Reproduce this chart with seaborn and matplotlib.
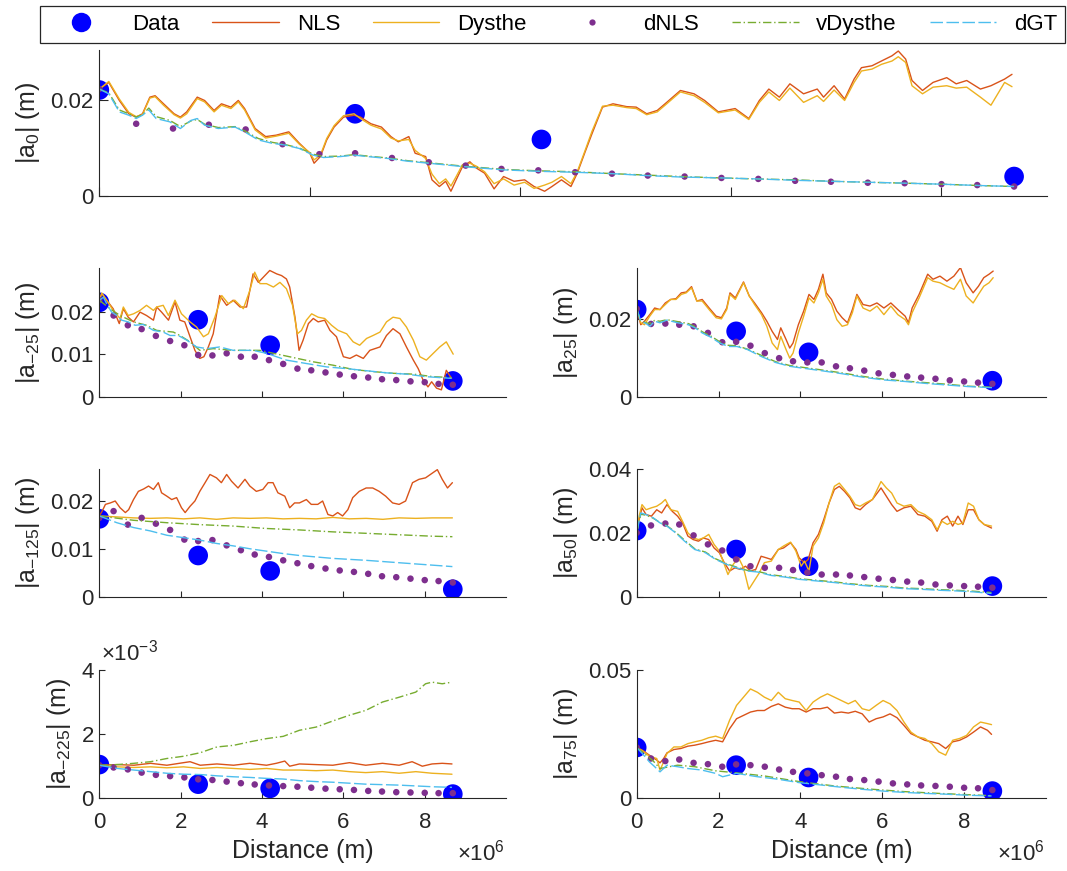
import numpy as np
import seaborn as sns
import matplotlib.pyplot as plt
from matplotlib.lines import Line2D

# distances are in units of 1e6 m
data_x = [0.0, 2.43, 4.20, 8.69]
dnls_x = [0.00, 0.35, 0.70, 1.04, 1.39, 1.74, 2.09, 2.43, 2.78, 3.13, 3.48, 3.82, 4.17,
          4.52, 4.87, 5.21, 5.56, 5.91, 6.26, 6.61, 6.95, 7.30, 7.65, 8.00, 8.34, 8.69]

# ---------- |a_0| ----------
a0_nls_x = [0.0, 0.09, 0.19, 0.28, 0.35, 0.41, 0.48, 0.53, 0.61, 0.71, 0.77, 0.83, 0.93, 1.0, 1.09,
            1.16, 1.25, 1.32, 1.38, 1.48, 1.58, 1.68, 1.80, 1.90, 2.0, 2.04, 2.10, 2.16, 2.23, 2.32,
            2.42, 2.48, 2.58, 2.68, 2.77, 2.84, 2.94, 3.0, 3.10, 3.16, 3.23, 3.29, 3.34, 3.39, 3.45,
            3.52, 3.58, 3.66, 3.75, 3.84, 3.94, 4.04, 4.13, 4.23, 4.30, 4.39, 4.48, 4.54, 4.61, 4.68,
            4.78, 4.88, 5.01, 5.10, 5.20, 5.30, 5.39, 5.52, 5.65, 5.75, 5.88, 6.04, 6.17, 6.27, 6.36,
            6.46, 6.56, 6.69, 6.82, 6.88, 6.98, 7.08, 7.17, 7.24, 7.34, 7.43, 7.53, 7.59, 7.66, 7.72,
            7.82, 7.92, 8.05, 8.14, 8.24, 8.37, 8.47, 8.60, 8.67]
a0_nls_y = [.0224, .0238, .0200, .0172, .0165, .0172, .0207, .0210, .0193, .0172,
            .0165, .0176, .0207, .0200, .0179, .0193, .0186, .0200, .0183, .0141,
            .0124, .0127, .0134, .0110, .0089, .0068, .0082, .0117, .0144, .0165,
            .0169, .0165, .0151, .0144, .0124, .0113, .0124, .0089, .0082, .0033,
            .0019, .0030, .0009, .0033, .0061, .0071, .0058, .0047, .0014, .0040,
            .0030, .0033, .0019, .0009, .0019, .0033, .0019, .0047, .0089, .0130,
            .0186, .0193, .0187, .0186, .0172, .0179, .0196, .0221, .0214, .0200,
            .0176, .0183, .0162, .0200, .0224, .0207, .0235, .0214, .0224, .0207,
            .0231, .0203, .0245, .0269, .0273, .0283, .0294, .0304, .0287, .0242,
            .0221, .0238, .0248, .0235, .0242, .0224, .0231, .0245, .0255]
a0_dys_y = [.0224, .0240, .0203, .0175, .0166, .0170, .0205, .0208, .0190, .0170,
            .0163, .0172, .0204, .0197, .0176, .0190, .0183, .0197, .0180, .0138,
            .0121, .0125, .0131, .0108, .0090, .0075, .0085, .0120, .0147, .0168,
            .0172, .0162, .0148, .0140, .0121, .0115, .0118, .0095, .0078, .0045,
            .0025, .0035, .0020, .0040, .0065, .0068, .0062, .0050, .0025, .0035,
            .0022, .0028, .0015, .0022, .0028, .0040, .0025, .0050, .0092, .0135,
            .0188, .0190, .0185, .0183, .0170, .0176, .0193, .0218, .0210, .0196,
            .0174, .0180, .0160, .0196, .0218, .0200, .0226, .0196, .0210, .0198,
            .0222, .0200, .0238, .0262, .0266, .0276, .0283, .0292, .0280, .0231,
            .0214, .0228, .0231, .0226, .0228, .0207, .0190, .0238, .0229]
a0_dgt_x = [0.0, 0.09, 0.19, 0.28, 0.35, 0.41, 0.47, 0.54, 0.67, 0.77, 0.87, 0.93, 1.0, 1.13, 1.29,
            1.38, 1.51, 1.64, 1.77, 1.90, 2.03, 2.13, 2.29, 2.42, 2.55, 2.74, 2.94, 3.13, 3.45, 3.84,
            4.17, 4.52, 4.88, 5.20, 5.52, 5.91, 6.24, 6.62, 6.95, 7.30, 7.66, 7.98, 8.37, 8.69]
a0_dgt_y = [.0224, .0214, .0176, .0169, .0162, .0169, .0180, .0162, .0155, .0141,
            .0158, .0162, .0148, .0141, .0144, .0134, .0117, .0110, .0106, .0099,
            .0085, .0080, .0082, .0085, .0082, .0078, .0072, .0068, .0061, .0054,
            .0051, .0049, .0046, .0042, .0039, .0037, .0035, .0032, .0030, .0028,
            .0026, .0024, .0021, .0019]
a0_vdy_y = [.0224, .0216, .0180, .0172, .0165, .0170, .0184, .0166, .0158, .0145,
            .0157, .0160, .0150, .0143, .0145, .0136, .0120, .0112, .0107, .0100,
            .0087, .0082, .0083, .0086, .0083, .0079, .0073, .0069, .0062, .0055,
            .0052, .0050, .0046, .0043, .0040, .0037, .0035, .0033, .0030, .0028,
            .0026, .0024, .0021, .0019]
a0_dnls_y = [.0224, .0151, .0141, .0149, .0139, .0108, .0087, .0089, .0079, .0070, .0063, .0056, .0053,
             .0049, .0046, .0042, .0040, .0037, .0035, .0031, .0029, .0027, .0026, .0024, .0022, .0019]
a0_data_y = [.0222, .0172, .0118, .0040]

# ---------- |a_-25| ----------
am25_nls_x = [0, .06, .18, .34, .49, .59, .71, .84, 1.0, 1.16, 1.33, 1.41, 1.53, 1.70, 1.86, 1.98,
              2.10, 2.23, 2.35, 2.47, 2.57, 2.68, 2.80, 2.96, 3.13, 3.29, 3.46, 3.62, 3.78, 3.91,
              4.03, 4.19, 4.36, 4.48, 4.60, 4.68, 4.81, 4.91, 5.01, 5.14, 5.26, 5.38, 5.54, 5.67,
              5.83, 6.0, 6.16, 6.32, 6.49, 6.65, 6.90, 7.06, 7.22, 7.39, 7.55, 7.72, 7.84, 7.96,
              8.08, 8.17, 8.29, 8.41, 8.53, 8.66]
am25_nls_y = [.0227, .0242, .0227, .0207, .0172, .0207, .0187, .0176, .0199, .0191,
              .0180, .0211, .0199, .0180, .0223, .0180, .0176, .0141, .0109, .0090,
              .0094, .0117, .0148, .0238, .0215, .0227, .0211, .0211, .0289, .0269,
              .0281, .0297, .0289, .0285, .0277, .0258, .0187, .0109, .0133, .0172,
              .0184, .0176, .0180, .0156, .0141, .0094, .0090, .0098, .0090, .0109,
              .0117, .0144, .0160, .0148, .0117, .0086, .0066, .0039, .0023, .0035,
              .0020, .0016, .0062, .0043]
am25_dys_x = [0, .06, .18, .34, .51, .59, .71, .84, 1.0, 1.16, 1.33, 1.41, 1.57, 1.70, 1.86, 2.02,
              2.23, 2.39, 2.56, 2.68, 2.84, 3.01, 3.17, 3.33, 3.54, 3.70, 3.82, 3.95, 4.11, 4.28,
              4.44, 4.60, 4.75, 4.87, 4.97, 5.09, 5.22, 5.38, 5.54, 5.71, 5.87, 6.08, 6.24, 6.40,
              6.57, 6.73, 6.90, 7.06, 7.22, 7.39, 7.55, 7.72, 7.88, 8.04, 8.21, 8.37, 8.53, 8.70]
am25_dys_y = [.0227, .0244, .0227, .0203, .0184, .0211, .0191, .0195, .0203, .0215,
              .0203, .0211, .0215, .0191, .0227, .0195, .0176, .0164, .0141, .0148,
              .0187, .0238, .0219, .0227, .0207, .0250, .0293, .0266, .0266, .0258,
              .0269, .0254, .0215, .0148, .0156, .0180, .0195, .0187, .0184, .0168,
              .0156, .0148, .0129, .0121, .0137, .0144, .0152, .0176, .0187, .0184,
              .0164, .0133, .0094, .0086, .0102, .0117, .0129, .0100]
am25_dgt_x = [0, .10, .18, .30, .43, .55, .71, .88, 1.08, 1.33, 1.57, 1.74, 1.94, 2.15, 2.39,
              2.64, 2.96, 3.29, 3.78, 4.11, 4.60, 5.09, 5.59, 6.08, 6.57, 7.06, 7.55, 8.04, 8.66]
am25_dgt_y = [.0227, .0234, .0219, .0199, .0191, .0180, .0176, .0168, .0170, .0156,
              .0152, .0144, .0144, .0133, .0117, .0113, .0117, .0109, .0109, .0102,
              .0086, .0078, .0070, .0066, .0061, .0056, .0053, .0047, .0043]
am25_vdy_x = [0, .26, .51, .84, 1.16, 1.41, 1.82, 1.98, 2.23, 2.47, 2.80, 3.29, 3.95, 4.28,
              4.77, 5.26, 5.75, 6.24, 6.73, 7.22, 7.72, 8.21, 8.66]
am25_vdy_y = [.0227, .0207, .0191, .0176, .0168, .0156, .0152, .0144, .0129, .0109, .0113,
              .0109, .0109, .0102, .0092, .0082, .0074, .0064, .0059, .0055, .0053, .0047, .0045]
am25_dnls_y = [.0227, .0191, .0168, .0159, .0143, .0131, .0121, .0098, .0097, .0102, .0094, .0094, .0086,
               .0077, .0066, .0062, .0057, .0052, .0048, .0045, .0041, .0039, .0036, .0034, .0030, .0028]
am25_data_y = [.0222, .0181, .0121, .0037]

# ---------- |a_25| ----------
a25_nls_x = [0, .10, .19, .32, .44, .57, .70, .83, .96, 1.09, 1.21, 1.34, 1.47, 1.60, 1.77, 1.94,
             2.07, 2.20, 2.28, 2.41, 2.61, 2.75, 2.88, 3.05, 3.18, 3.31, 3.44, 3.52, 3.65, 3.74,
             3.82, 3.95, 4.08, 4.21, 4.33, 4.44, 4.55, 4.63, 4.76, 4.89, 5.02, 5.15, 5.27, 5.38,
             5.53, 5.70, 5.87, 6.04, 6.21, 6.38, 6.56, 6.64, 6.73, 6.90, 7.11, 7.24, 7.41, 7.58,
             7.75, 7.91, 8.05, 8.22, 8.35, 8.48, 8.61, 8.71]
a25_nls_y = [.0226, .0185, .0194, .0211, .0228, .0224, .0241, .0250, .0252, .0267,
             .0269, .0283, .0246, .0250, .0228, .0207, .0203, .0228, .0267, .0254,
             .0295, .0259, .0241, .0216, .0194, .0168, .0147, .0177, .0147, .0125,
             .0138, .0185, .0220, .0263, .0250, .0276, .0315, .0267, .0250, .0220,
             .0203, .0190, .0224, .0263, .0237, .0233, .0241, .0228, .0241, .0224,
             .0207, .0190, .0228, .0263, .0315, .0302, .0310, .0297, .0310, .0332,
             .0293, .0267, .0284, .0306, .0315, .0323]
a25_dys_y = [.0226, .0190, .0185, .0207, .0224, .0224, .0237, .0250, .0250, .0263,
             .0267, .0280, .0246, .0246, .0224, .0203, .0200, .0224, .0263, .0250,
             .0293, .0259, .0237, .0211, .0181, .0138, .0121, .0155, .0121, .0099,
             .0112, .0164, .0207, .0254, .0241, .0267, .0302, .0259, .0237, .0198,
             .0181, .0185, .0216, .0259, .0228, .0220, .0233, .0211, .0233, .0211,
             .0198, .0185, .0216, .0254, .0306, .0297, .0293, .0284, .0276, .0302,
             .0259, .0241, .0263, .0284, .0293, .0306]
a25_dgt_x = [0, .10, .23, .32, .44, .57, .74, 1.0, 1.26, 1.43, 1.60, 1.81, 2.03, 2.24, 2.45,
             2.71, 3.05, 3.39, 3.74, 4.08, 4.50, 5.02, 5.53, 6.04, 6.56, 7.07, 7.58, 8.09, 8.71]
a25_dgt_y = [.0226, .0194, .0188, .0181, .0194, .0190, .0197, .0190, .0185, .0177,
             .0164, .0153, .0138, .0129, .0129, .0121, .0103, .0088, .0078, .0073,
             .0067, .0059, .0050, .0043, .0039, .0034, .0030, .0026, .0023]
a25_vdy_y = [.0226, .0196, .0190, .0188, .0196, .0194, .0198, .0193, .0188, .0180,
             .0167, .0156, .0141, .0132, .0131, .0122, .0106, .0090, .0080, .0075,
             .0069, .0061, .0052, .0045, .0040, .0036, .0032, .0027, .0024]
a25_dnls_y = [.0226, .0187, .0188, .0185, .0181, .0164, .0140, .0141, .0131, .0112, .0099, .0091, .0088,
              .0088, .0078, .0073, .0067, .0060, .0056, .0052, .0049, .0046, .0042, .0039, .0036, .0033]
a25_data_y = [.0224, .0168, .0114, .0041]

# ---------- |a_-125| ----------
am125_nls_x = [0, .07, .15, .27, .39, .51, .64, .72, .84, .96, 1.09, 1.21, 1.33, 1.45, 1.53, 1.66,
               1.78, 1.90, 2.02, 2.11, 2.23, 2.35, 2.47, 2.60, 2.72, 2.88, 3.0, 3.13, 3.25, 3.41,
               3.58, 3.70, 3.86, 4.02, 4.15, 4.27, 4.39, 4.56, 4.68, 4.80, 4.92, 5.09, 5.21, 5.37,
               5.49, 5.62, 5.74, 5.86, 5.98, 6.11, 6.23, 6.39, 6.56, 6.72, 6.88, 7.04, 7.21, 7.37,
               7.53, 7.70, 7.86, 8.02, 8.19, 8.31, 8.43, 8.56, 8.68]
am125_nls_y = [.0168, .0178, .0192, .0195, .0199, .0185, .0175, .0181, .0202, .0219,
               .0224, .0230, .0223, .0237, .0216, .0209, .0202, .0206, .0185, .0175,
               .0188, .0199, .0219, .0237, .0254, .0247, .0237, .0254, .0240, .0226,
               .0244, .0230, .0219, .0223, .0237, .0237, .0216, .0209, .0185, .0195,
               .0195, .0202, .0192, .0192, .0199, .0171, .0168, .0175, .0168, .0181,
               .0206, .0219, .0226, .0226, .0219, .0209, .0195, .0192, .0199, .0237,
               .0244, .0247, .0257, .0264, .0244, .0226, .0237]
am125_dys_x = [0, .43, .84, 1.25, 1.66, 2.07, 2.47, 2.88, 3.29, 3.70, 4.11, 4.52, 4.92, 5.33,
               5.74, 6.15, 6.56, 6.97, 7.37, 7.78, 8.19, 8.68]
am125_dys_y = [.0168, .0166, .0164, .0163, .0164, .0162, .0164, .0161, .0164, .0163, .0164,
               .0162, .0163, .0162, .0165, .0162, .0163, .0161, .0164, .0163, .0164, .0164]
am125_vdy_x = [0, .84, 1.66, 2.47, 3.29, 4.11, 4.92, 5.74, 6.56, 7.37, 8.19, 8.68]
am125_vdy_y = [.0168, .0159, .0154, .0150, .0147, .0142, .0139, .0135, .0132, .0129, .0126, .0125]
am125_dgt_x = [0, .43, .84, 1.25, 1.66, 2.07, 2.47, 2.88, 3.29, 3.70, 4.11, 4.52, 4.92, 5.33,
               5.74, 6.56, 7.37, 8.19, 8.68]
am125_dgt_y = [.0168, .0154, .0144, .0137, .0128, .0123, .0118, .0111, .0106, .0100, .0095,
               .0090, .0086, .0083, .0080, .0076, .0071, .0066, .0063]
am125_dnls_y = [.0164, .0178, .0150, .0164, .0152, .0139, .0119, .0116, .0118, .0107, .0097, .0088, .0083,
                .0076, .0070, .0064, .0059, .0055, .0052, .0048, .0043, .0041, .0038, .0035, .0033, .0030]
am125_data_y = [.0162, .0086, .0054, .0016]

# ---------- |a_50| ----------
a50_nls_x = [0, .06, .13, .23, .36, .49, .61, .74, .87, 1.0, 1.12, 1.25, 1.38, 1.51, 1.63, 1.76,
             1.89, 2.02, 2.14, 2.27, 2.40, 2.53, 2.66, 2.78, 2.91, 3.04, 3.17, 3.29, 3.46, 3.59,
             3.76, 3.89, 3.97, 4.10, 4.19, 4.31, 4.44, 4.57, 4.70, 4.83, 4.95, 5.08, 5.21, 5.34,
             5.46, 5.59, 5.76, 5.97, 6.10, 6.23, 6.36, 6.53, 6.70, 6.87, 7.04, 7.21, 7.34, 7.46,
             7.59, 7.72, 7.85, 7.97, 8.10, 8.23, 8.36, 8.49, 8.67]
a50_nls_y = [.0200, .0241, .0278, .0257, .0252, .0272, .0262, .0288, .0267, .0252,
             .0231, .0190, .0179, .0174, .0184, .0179, .0153, .0138, .0107, .0081,
             .0091, .0086, .0096, .0081, .0086, .0127, .0122, .0117, .0148, .0153,
             .0169, .0148, .0122, .0107, .0117, .0169, .0195, .0241, .0293, .0335,
             .0345, .0329, .0309, .0278, .0272, .0288, .0304, .0340, .0314, .0288,
             .0267, .0278, .0283, .0257, .0252, .0236, .0205, .0241, .0252, .0221,
             .0252, .0226, .0272, .0272, .0241, .0226, .0215]
a50_dys_x = [0, .06, .13, .23, .36, .49, .61, .70, .83, 1.0, 1.12, 1.25, 1.38, 1.51, 1.63, 1.76,
             1.89, 2.02, 2.14, 2.23, 2.36, 2.49, 2.61, 2.74, 2.87, 3.0, 3.12, 3.29, 3.46, 3.59,
             3.76, 3.89, 4.02, 4.10, 4.21, 4.31, 4.44, 4.57, 4.70, 4.83, 4.95, 5.08, 5.21, 5.34,
             5.46, 5.59, 5.76, 5.97, 6.10, 6.23, 6.36, 6.53, 6.70, 6.87, 7.04, 7.21, 7.34, 7.46,
             7.59, 7.72, 7.85, 7.97, 8.10, 8.23, 8.36, 8.49, 8.67]
a50_dys_y = [.0200, .0252, .0288, .0272, .0278, .0283, .0293, .0304, .0272, .0267,
             .0236, .0200, .0184, .0179, .0184, .0195, .0164, .0143, .0102, .0070,
             .0102, .0122, .0091, .0024, .0050, .0076, .0107, .0112, .0148, .0159,
             .0171, .0143, .0096, .0112, .0081, .0159, .0184, .0231, .0293, .0345,
             .0355, .0335, .0314, .0288, .0283, .0293, .0304, .0360, .0340, .0324,
             .0293, .0283, .0288, .0267, .0257, .0241, .0210, .0236, .0226, .0236,
             .0226, .0231, .0293, .0283, .0241, .0226, .0221]
a50_dgt_x = [0, .10, .23, .40, .57, .74, .95, 1.17, 1.42, 1.68, 1.93, 2.19, 2.44, 2.70, 2.95,
             3.29, 3.63, 3.97, 4.40, 4.83, 5.25, 5.68, 6.10, 6.53, 6.95, 7.38, 7.80, 8.23, 8.67]
a50_dgt_y = [.0200, .0262, .0257, .0247, .0231, .0221, .0200, .0174, .0148, .0138,
             .0117, .0102, .0091, .0081, .0078, .0067, .0062, .0055, .0050, .0045,
             .0039, .0034, .0031, .0026, .0024, .0021, .0019, .0016, .0011]
a50_vdy_y = [.0200, .0258, .0255, .0246, .0232, .0222, .0202, .0177, .0150, .0140,
             .0119, .0104, .0093, .0083, .0080, .0069, .0064, .0057, .0052, .0047,
             .0041, .0036, .0033, .0028, .0026, .0023, .0021, .0018, .0014]
a50_dnls_y = [.0200, .0223, .0229, .0226, .0192, .0164, .0145, .0117, .0096, .0091, .0091, .0084, .0076,
              .0070, .0070, .0067, .0062, .0057, .0053, .0048, .0045, .0039, .0036, .0034, .0032, .0029]
a50_data_y = [.0207, .0148, .0096, .0034]

# ---------- |a_-225| ----------
am225_nls_x = [0, .44, .85, 1.26, 1.66, 2.07, 2.23, 2.48, 2.89, 3.30, 3.70, 4.11, 4.35, 4.56,
               4.68, 4.92, 5.33, 5.74, 6.15, 6.55, 6.96, 7.37, 7.69, 7.94, 8.18, 8.43, 8.67]
am225_nls_y = [.00103, .00105, .00103, .00109, .00103, .00111, .00114, .00103, .00107,
               .00103, .00109, .00103, .00109, .00116, .00100, .00107, .00105, .00103,
               .00111, .00103, .00109, .00103, .00114, .00100, .00107, .00109, .00107]
am225_dys_x = [0, .44, .85, 1.26, 1.66, 2.07, 2.48, 2.89, 3.30, 3.70, 4.11, 4.52, 4.92, 5.33,
               5.74, 6.15, 6.55, 6.96, 7.37, 7.78, 8.18, 8.67]
am225_dys_y = [.00103, .00098, .00096, .00098, .00095, .00098, .00093, .00096, .00093,
               .00090, .00093, .00088, .00088, .00086, .00088, .00083, .00080, .00083,
               .00078, .00083, .00078, .00075]
am225_vdy_x = [0, .44, .85, 1.26, 1.66, 2.07, 2.48, 2.89, 3.30, 3.70, 4.11, 4.52, 4.92, 5.33,
               5.74, 6.15, 6.55, 6.96, 7.37, 7.78, 8.02, 8.18, 8.43, 8.67]
am225_vdy_y = [.00103, .00105, .00109, .00114, .00124, .00131, .00142, .00160, .00165,
               .00176, .00186, .00193, .00212, .00222, .00241, .00259, .00274, .00300,
               .00315, .00331, .00357, .00362, .00357, .00362]
am225_dgt_x = [0, .44, .85, 1.26, 1.66, 2.07, 2.48, 2.89, 3.30, 3.70, 4.11, 4.52, 4.92, 5.33,
               5.74, 6.55, 7.37, 8.18, 8.67]
am225_dgt_y = [.00103, .00093, .00088, .00083, .00078, .00075, .00074, .00070, .00067,
               .00065, .00062, .00060, .00055, .00052, .00050, .00044, .00041, .00036, .00034]
am225_dnls_y = [.00103, .00096, .00090, .00080, .00073, .00069, .00065, .00059, .00057,
                .00052, .00047, .00043, .00040, .00038, .00036, .00033, .00030, .00028,
                .00026, .00023, .00021, .00019, .00018, .00017, .00016, .00016]
am225_data_y = [.00105, .00044, .00031, .00013]

# ---------- |a_75| ----------
a75_nls_x = [0, .14, .31, .49, .57, .66, .74, .91, 1.08, 1.25, 1.42, 1.59, 1.76, 1.93, 2.10,
             2.27, 2.44, 2.61, 2.78, 2.95, 3.12, 3.29, 3.46, 3.63, 3.80, 3.97, 4.14, 4.31, 4.49,
             4.66, 4.83, 5.0, 5.17, 5.34, 5.51, 5.68, 5.85, 6.02, 6.19, 6.36, 6.53, 6.70, 6.87,
             7.04, 7.21, 7.38, 7.55, 7.72, 7.89, 8.06, 8.23, 8.40, 8.57, 8.67]
a75_nls_y = [.0198, .0187, .0168, .0149, .0138, .0155, .0177, .0190, .0194, .0203,
             .0207, .0213, .0220, .0226, .0220, .0271, .0310, .0323, .0336, .0342,
             .0342, .0358, .0368, .0355, .0349, .0349, .0336, .0349, .0349, .0355,
             .0332, .0336, .0332, .0339, .0329, .0297, .0310, .0317, .0329, .0314,
             .0284, .0252, .0239, .0226, .0220, .0213, .0194, .0220, .0226, .0239,
             .0258, .0278, .0265, .0249]
a75_dys_y = [.0198, .0185, .0164, .0155, .0110, .0142, .0174, .0200, .0200, .0213,
             .0220, .0226, .0236, .0242, .0233, .0304, .0362, .0394, .0426, .0413,
             .0394, .0381, .0413, .0388, .0381, .0375, .0342, .0375, .0394, .0407,
             .0394, .0381, .0368, .0381, .0349, .0342, .0362, .0381, .0368, .0342,
             .0297, .0258, .0239, .0233, .0213, .0181, .0168, .0226, .0233, .0245,
             .0278, .0297, .0291, .0287]
a75_dgt_x = [0, .14, .31, .44, .57, .74, 1.0, 1.25, 1.59, 1.93, 2.10, 2.44, 2.95, 3.46, 3.97,
             4.49, 5.0, 5.51, 6.02, 6.53, 7.04, 7.55, 8.06, 8.67]
a75_dgt_y = [.0198, .0174, .0142, .0123, .0103, .0129, .0123, .0116, .0110, .0097, .0084, .0097,
             .0084, .0074, .0061, .0052, .0043, .0035, .0028, .0023, .0019, .0016, .0012, .0009]
a75_vdy_x = [0, .40, .57, 1.0, 1.42, 1.93, 2.44, 3.12, 3.97, 4.83, 5.68, 6.53, 7.38, 8.23, 8.67]
a75_vdy_y = [.0198, .0146, .0116, .0129, .0123, .0107, .0099, .0087, .0065, .0048, .0036,
             .0026, .0019, .0013, .0010]
a75_dnls_y = [.0198, .0155, .0145, .0151, .0138, .0133, .0123, .0132, .0129, .0123, .0112, .0103, .0097,
              .0090, .0084, .0075, .0071, .0065, .0058, .0054, .0050, .0048, .0045, .0041, .0039, .0032]
a75_data_y = [.0198, .0129, .0081, .0028]

# panel options: ylabel, ylim top, y ticks, y tick labels
ylabels = [r'|a$_{0}$| (m)', r'|a$_{-25}$| (m)', r'|a$_{25}$| (m)', r'|a$_{-125}$| (m)',
           r'|a$_{50}$| (m)', r'|a$_{-225}$| (m)', r'|a$_{75}$| (m)']
ytops = [0.0306, 0.0302, 0.0330, 0.0266, 0.04, 0.004, 0.05]
yticks = [[0, 0.02], [0, 0.01, 0.02], [0, 0.02], [0, 0.01, 0.02],
          [0, 0.02, 0.04], [0, 0.002, 0.004], [0, 0.05]]
yticklabels = [['0', '0.02'], ['0', '0.01', '0.02'], ['0', '0.02'], ['0', '0.01', '0.02'],
               ['0', '0.02', '0.04'], ['0', '2', '4'], ['0', '0.05']]
xticks = [0, 2, 4, 6, 8]

C_DATA = '#0000FF'
C_NLS = '#D95319'
C_DYS = '#EDB120'
C_DNLS = '#7E2F8E'
C_VDY = '#77AC30'
C_DGT = '#4DBEEE'
INK = '#262626'
DGT_DASH = (9, 2.5)
VDY_DASH = (6, 2, 1, 2)

sns.set_theme(style='ticks')
plt.rcParams['font.family'] = ['Liberation Sans', 'DejaVu Sans']
plt.rcParams['mathtext.fontset'] = 'custom'
plt.rcParams['mathtext.rm'] = 'Liberation Sans'
plt.rcParams['mathtext.default'] = 'regular'

panels = [
    (a0_nls_x, a0_nls_y, a0_nls_x, a0_dys_y, a0_dnls_y, a0_dgt_x, a0_vdy_y, a0_dgt_x, a0_dgt_y, a0_data_y),
    (am25_nls_x, am25_nls_y, am25_dys_x, am25_dys_y, am25_dnls_y, am25_vdy_x, am25_vdy_y,
     am25_dgt_x, am25_dgt_y, am25_data_y),
    (a25_nls_x, a25_nls_y, a25_nls_x, a25_dys_y, a25_dnls_y, a25_dgt_x, a25_vdy_y,
     a25_dgt_x, a25_dgt_y, a25_data_y),
    (am125_nls_x, am125_nls_y, am125_dys_x, am125_dys_y, am125_dnls_y, am125_vdy_x, am125_vdy_y,
     am125_dgt_x, am125_dgt_y, am125_data_y),
    (a50_nls_x, a50_nls_y, a50_dys_x, a50_dys_y, a50_dnls_y, a50_dgt_x, a50_vdy_y,
     a50_dgt_x, a50_dgt_y, a50_data_y),
    (am225_nls_x, am225_nls_y, am225_dys_x, am225_dys_y, am225_dnls_y, am225_vdy_x, am225_vdy_y,
     am225_dgt_x, am225_dgt_y, am225_data_y),
    (a75_nls_x, a75_nls_y, a75_nls_x, a75_dys_y, a75_dnls_y, a75_vdy_x, a75_vdy_y,
     a75_dgt_x, a75_dgt_y, a75_data_y),
]

fig = plt.figure(figsize=(10.67, 8.71), dpi=100)
L1, W1 = 0.0931, 0.3812
L2, W2 = 0.5967, 0.3836
H = 0.1473
boxes = [
    (0.0931, 0.7755, 0.8879, 0.1670),
    (L1, 0.5446, W1, H), (L2, 0.5446, W2, H),
    (L1, 0.3146, W1, H), (L2, 0.3146, W2, H),
    (L1, 0.0835, W1, H), (L2, 0.0835, W2, H),
]

M = 1e6
for i, (box, p) in enumerate(zip(boxes, panels)):
    nx, ny, dx, dy, dn, vx, vy, gx, gy, day = p
    ax = fig.add_axes(box)
    sns.scatterplot(x=np.array(data_x) * M, y=day, s=200, color=C_DATA, edgecolor='none',
                    ax=ax, zorder=1, legend=False)
    sns.lineplot(x=np.array(nx) * M, y=ny, color=C_NLS, lw=1.0, sort=False, estimator=None,
                 ax=ax, zorder=2)
    sns.lineplot(x=np.array(dx) * M, y=dy, color=C_DYS, lw=1.0, sort=False, estimator=None,
                 ax=ax, zorder=2.1)
    sns.scatterplot(x=np.array(dnls_x) * M, y=dn, s=22, color=C_DNLS, edgecolor='none',
                    ax=ax, zorder=2.2, legend=False)
    sns.lineplot(x=np.array(vx) * M, y=vy, color=C_VDY, lw=1.0, sort=False, estimator=None,
                 ax=ax, zorder=2.3)
    ax.lines[-1].set_dashes(VDY_DASH)
    sns.lineplot(x=np.array(gx) * M, y=gy, color=C_DGT, lw=1.0, sort=False, estimator=None,
                 ax=ax, zorder=2.4)
    ax.lines[-1].set_dashes(DGT_DASH)

    ax.set_xlim(0, 9e6 if i == 0 else 1e7)
    ax.set_ylim(0, ytops[i])
    ax.set_xticks([t * M for t in xticks])
    ax.set_yticks(yticks[i])
    ax.set_yticklabels(yticklabels[i])
    if i >= 5:
        ax.set_xticklabels([str(t) for t in xticks])
        ax.set_xlabel('Distance (m)', fontsize=18, color=INK, labelpad=4)
    else:
        ax.set_xticklabels([])
        ax.set_xlabel('')
    ax.set_ylabel(ylabels[i], fontsize=18, color=INK, labelpad=6)
    ax.tick_params(direction='in', length=6.5 if i == 0 else 4, width=0.8,
                   colors=INK, labelsize=16, pad=4)
    ax.tick_params(axis='x', pad=10)
    for s in ['top', 'right']:
        ax.spines[s].set_visible(False)
    for s in ['left', 'bottom']:
        ax.spines[s].set_color(INK)
        ax.spines[s].set_linewidth(0.8)
    ax.set_facecolor('white')

# exponent labels
fig.text(505 / 1067, 1 - 853 / 871, '×10$^{6}$', ha='right', va='center', fontsize=16, color=INK)
fig.text(1045 / 1067, 1 - 853 / 871, '×10$^{6}$', ha='right', va='center', fontsize=16, color=INK)
fig.text(101 / 1067, 1 - 653 / 871, '×10$^{-3}$', ha='left', va='center', fontsize=16, color=INK)

handles = [
    Line2D([], [], marker='o', color=C_DATA, ls='none', markersize=14, markeredgewidth=0),
    Line2D([], [], color=C_NLS, lw=1.0),
    Line2D([], [], color=C_DYS, lw=1.0),
    Line2D([], [], marker='o', color=C_DNLS, ls='none', markersize=4.5, markeredgewidth=0),
    Line2D([], [], color=C_VDY, lw=1.0, dashes=VDY_DASH),
    Line2D([], [], color=C_DGT, lw=1.0, dashes=DGT_DASH),
]
labels = ['Data', 'NLS', 'Dysthe', 'dNLS', 'vDysthe', 'dGT']
leg = fig.legend(handles, labels, loc='lower left', ncol=6, mode='expand',
                 bbox_to_anchor=(0.0375, 0.9506, 0.9606, 0.0448), fontsize=16,
                 frameon=True, fancybox=False, edgecolor=INK, framealpha=1,
                 handlelength=3.0, borderaxespad=0, borderpad=0.35, handletextpad=0.8)
leg.get_frame().set_linewidth(0.9)
for t in leg.get_texts():
    t.set_color('black')

fig.savefig('out.png', dpi=100)
